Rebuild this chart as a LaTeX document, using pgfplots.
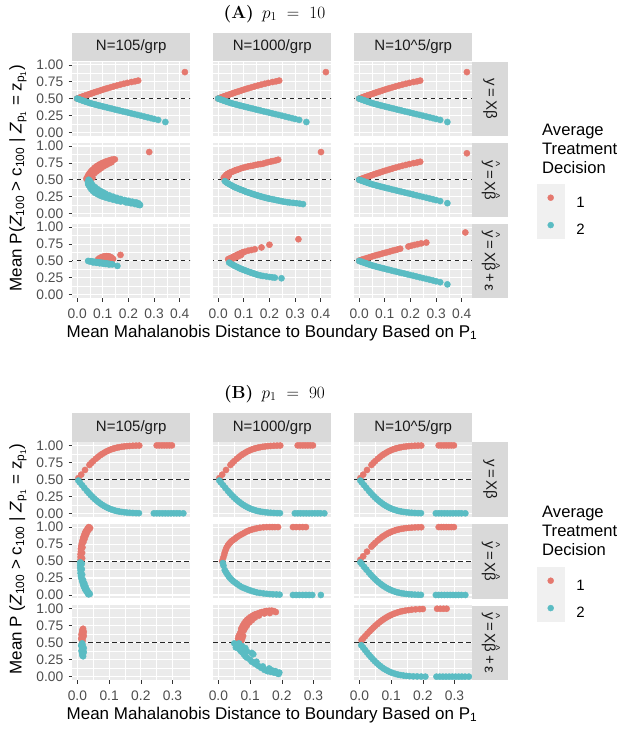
\documentclass[border=0pt]{standalone}
\usepackage{fontspec}
\newfontfamily\arial{Liberation Sans}
\usepackage{pgfplots}
\usepackage{pgfplotstable}
\pgfplotsset{compat=1.18}
\definecolor{panelbg}{HTML}{EBEBEB}
\definecolor{stripbg}{HTML}{D9D9D9}
\definecolor{stripfg}{HTML}{1A1A1A}
\definecolor{ticktxt}{HTML}{4D4D4D}
\definecolor{tickcol}{HTML}{333333}
\definecolor{keybg}{HTML}{F0F0F0}
\definecolor{cred}{HTML}{E5786E}
\definecolor{cblue}{HTML}{5ABCC3}

% ---------- Panel A data ----------
\pgfplotstableread{
x y
0.000 0.500
0.006 0.508
0.012 0.517
0.018 0.525
0.024 0.534
0.030 0.542
0.037 0.551
0.044 0.561
0.051 0.570
0.058 0.580
0.066 0.590
0.074 0.600
0.082 0.610
0.091 0.621
0.100 0.632
0.110 0.644
0.120 0.656
0.131 0.668
0.142 0.680
0.155 0.694
0.168 0.707
0.182 0.720
0.196 0.733
0.212 0.746
0.226 0.756
0.238 0.767
0.420 0.893
}\Aonr
\pgfplotstableread{
x y
0.000 0.500
0.006 0.492
0.012 0.484
0.018 0.476
0.024 0.468
0.030 0.460
0.036 0.452
0.043 0.443
0.050 0.434
0.058 0.425
0.066 0.417
0.074 0.409
0.082 0.401
0.090 0.393
0.099 0.385
0.108 0.376
0.117 0.368
0.126 0.359
0.136 0.350
0.146 0.340
0.156 0.331
0.166 0.322
0.177 0.312
0.188 0.302
0.199 0.292
0.211 0.281
0.223 0.270
0.236 0.258
0.249 0.246
0.262 0.234
0.275 0.222
0.288 0.210
0.300 0.198
0.316 0.184
0.344 0.153
}\Aonb
\pgfplotstableread{
x y
0.036 0.515
0.040 0.540
0.043 0.564
0.047 0.590
0.052 0.614
0.057 0.635
0.062 0.653
0.068 0.676
0.075 0.698
0.082 0.714
0.088 0.728
0.095 0.742
0.101 0.752
0.109 0.765
0.117 0.777
0.126 0.788
0.134 0.797
0.141 0.800
0.147 0.802
0.045 0.525
0.052 0.548
0.060 0.575
0.068 0.600
0.076 0.625
0.085 0.650
0.094 0.675
0.104 0.700
0.114 0.722
0.124 0.742
0.134 0.760
0.050 0.510
0.060 0.530
0.281 0.911
}\Atwrone
\pgfplotstableread{
x y
0.045 0.500
0.050 0.480
0.055 0.450
0.060 0.420
0.070 0.390
0.080 0.360
0.090 0.335
0.100 0.315
0.110 0.295
0.125 0.270
0.140 0.250
0.155 0.232
0.170 0.215
0.185 0.200
0.200 0.188
0.215 0.175
0.230 0.165
0.043 0.440
0.062 0.350
0.088 0.290
0.114 0.250
0.140 0.218
0.166 0.193
0.199 0.163
0.231 0.143
0.244 0.129
0.042 0.470
0.045 0.420
0.050 0.390
0.055 0.360
0.062 0.330
0.070 0.305
0.080 0.285
0.090 0.265
0.100 0.250
0.112 0.235
0.125 0.220
0.140 0.205
0.155 0.190
0.170 0.178
0.190 0.165
0.210 0.152
0.225 0.140
0.238 0.130
0.245 0.125
0.240 0.150
}\Atwbone
\pgfplotstableread{
x y
0.022 0.530
0.027 0.552
0.032 0.574
0.038 0.590
0.045 0.604
0.051 0.614
0.058 0.624
0.065 0.637
0.071 0.645
0.078 0.653
0.087 0.666
0.097 0.678
0.107 0.688
0.117 0.698
0.127 0.705
0.136 0.710
0.146 0.720
0.156 0.728
0.166 0.733
0.175 0.738
0.185 0.750
0.195 0.762
0.205 0.770
0.214 0.777
0.225 0.787
0.234 0.797
0.025 0.510
0.030 0.525
0.035 0.540
0.041 0.560
0.401 0.911
}\Atwrtwo
\pgfplotstableread{
x y
0.026 0.480
0.032 0.462
0.038 0.447
0.045 0.431
0.052 0.417
0.058 0.404
0.064 0.392
0.071 0.381
0.078 0.370
0.084 0.360
0.090 0.351
0.097 0.342
0.104 0.330
0.110 0.320
0.117 0.312
0.123 0.305
0.130 0.295
0.136 0.288
0.143 0.280
0.149 0.272
0.156 0.264
0.162 0.257
0.169 0.250
0.175 0.243
0.182 0.236
0.188 0.230
0.195 0.224
0.201 0.218
0.210 0.212
0.219 0.205
0.227 0.198
0.236 0.191
0.245 0.184
0.253 0.178
0.262 0.172
0.270 0.167
0.279 0.163
0.292 0.158
0.305 0.153
0.318 0.146
0.331 0.139
}\Atwbtwo
\pgfplotstableread{
x y
0.082 0.525
0.088 0.542
0.095 0.555
0.101 0.563
0.108 0.570
0.115 0.572
0.121 0.570
0.128 0.563
0.134 0.550
0.140 0.530
0.092 0.522
0.100 0.535
0.110 0.545
0.120 0.543
0.128 0.533
0.105 0.553
0.169 0.589
}\Athrone
\pgfplotstableread{
x y
0.043 0.500
0.048 0.494
0.054 0.496
0.060 0.490
0.066 0.488
0.072 0.484
0.078 0.482
0.084 0.478
0.090 0.475
0.096 0.472
0.102 0.470
0.108 0.466
0.114 0.463
0.120 0.460
0.126 0.456
0.132 0.452
0.138 0.449
0.062 0.478
0.075 0.472
0.088 0.465
0.100 0.460
0.112 0.455
0.124 0.447
0.157 0.426
}\Athbone
\pgfplotstableread{
x y
0.039 0.525
0.044 0.533
0.049 0.542
0.055 0.552
0.060 0.562
0.065 0.572
0.070 0.580
0.075 0.590
0.080 0.600
0.086 0.610
0.092 0.620
0.098 0.630
0.104 0.637
0.117 0.652
0.130 0.662
0.143 0.673
0.169 0.700
0.200 0.740
0.045 0.515
0.052 0.528
0.060 0.540
0.068 0.553
0.076 0.565
0.084 0.580
0.090 0.590
0.050 0.505
0.313 0.822
}\Athrtwo
\pgfplotstableread{
x y
0.043 0.475
0.050 0.458
0.058 0.441
0.064 0.428
0.071 0.416
0.078 0.403
0.084 0.391
0.090 0.381
0.097 0.371
0.103 0.362
0.110 0.352
0.117 0.342
0.124 0.333
0.130 0.325
0.136 0.317
0.143 0.309
0.149 0.300
0.156 0.292
0.165 0.285
0.175 0.277
0.188 0.270
0.201 0.262
0.211 0.257
0.221 0.252
0.247 0.243
}\Athbtwo
\pgfplotstableread{
x y
0.000 0.505
0.010 0.518
0.020 0.530
0.030 0.542
0.040 0.554
0.050 0.566
0.060 0.577
0.070 0.588
0.080 0.598
0.090 0.609
0.100 0.619
0.110 0.630
0.120 0.640
0.130 0.651
0.140 0.661
0.150 0.671
0.160 0.681
0.192 0.714
0.203 0.725
0.215 0.737
0.228 0.748
0.242 0.760
0.262 0.772
0.414 0.922
}\Athrthree

% ---------- Panel B data ----------
\pgfplotstableread{
x y
0.003 0.518
0.012 0.570
0.024 0.638
0.038 0.712
0.044 0.741
0.050 0.769
0.058 0.803
0.065 0.830
0.072 0.855
0.078 0.874
0.085 0.894
0.092 0.912
0.098 0.925
0.105 0.939
0.112 0.950
0.118 0.959
0.125 0.967
0.132 0.974
0.140 0.980
0.148 0.985
0.156 0.989
0.165 0.992
0.175 0.995
0.185 0.997
0.195 0.998
0.250 1.000
0.258 1.000
0.266 1.000
0.274 1.000
0.282 1.000
0.290 1.000
0.298 1.000
}\Bonr
\pgfplotstableread{
x y
0.003 0.482
0.008 0.453
0.015 0.413
0.022 0.373
0.030 0.330
0.036 0.298
0.042 0.268
0.048 0.240
0.054 0.213
0.060 0.189
0.066 0.166
0.072 0.145
0.078 0.126
0.085 0.106
0.092 0.088
0.098 0.075
0.105 0.061
0.112 0.050
0.118 0.041
0.125 0.033
0.132 0.026
0.140 0.020
0.148 0.015
0.156 0.011
0.165 0.008
0.175 0.005
0.185 0.003
0.194 0.002
0.241 0.000
0.250 0.000
0.259 0.000
0.268 0.000
0.277 0.000
0.286 0.000
0.295 0.000
0.304 0.000
0.313 0.000
0.322 0.000
0.334 0.000
}\Bonb
\pgfplotstableread{
x y
0.010 0.520
0.010 0.560
0.010 0.600
0.011 0.640
0.011 0.680
0.012 0.720
0.014 0.760
0.016 0.800
0.018 0.840
0.021 0.870
0.023 0.900
0.025 0.920
0.027 0.940
0.030 0.960
0.033 0.980
0.035 0.990
0.036 1.000
0.015 0.540
0.015 0.620
0.016 0.700
0.019 0.780
0.023 0.830
0.027 0.880
0.031 0.925
0.036 0.965
0.040 0.985
}\Btwrone
\pgfplotstableread{
x y
0.009 0.480
0.009 0.440
0.009 0.400
0.010 0.360
0.010 0.320
0.011 0.280
0.013 0.240
0.015 0.200
0.018 0.160
0.020 0.130
0.023 0.100
0.025 0.080
0.028 0.060
0.031 0.040
0.034 0.020
0.035 0.010
0.014 0.460
0.014 0.380
0.015 0.300
0.018 0.220
0.022 0.170
0.026 0.120
0.030 0.075
0.035 0.040
0.039 0.015
}\Btwbone
\pgfplotstableread{
x y
0.012 0.500
0.015 0.545
0.018 0.587
0.020 0.625
0.023 0.664
0.026 0.700
0.030 0.731
0.034 0.755
0.038 0.777
0.043 0.798
0.049 0.818
0.054 0.836
0.059 0.854
0.066 0.875
0.074 0.895
0.082 0.916
0.090 0.936
0.097 0.950
0.105 0.962
0.113 0.973
0.121 0.982
0.131 0.990
0.142 0.997
0.152 0.999
0.162 1.000
0.170 1.000
0.178 1.000
0.188 1.000
0.235 1.000
0.245 1.000
0.256 1.000
0.266 1.000
0.276 1.000
}\Btwrtwo
\pgfplotstableread{
x y
0.014 0.470
0.016 0.433
0.020 0.367
0.024 0.335
0.028 0.305
0.032 0.278
0.036 0.254
0.041 0.228
0.047 0.203
0.053 0.182
0.059 0.162
0.066 0.138
0.074 0.115
0.082 0.100
0.090 0.085
0.097 0.072
0.105 0.059
0.113 0.048
0.121 0.038
0.131 0.030
0.142 0.023
0.152 0.017
0.162 0.013
0.172 0.010
0.183 0.008
0.193 0.005
0.235 0.000
0.245 0.000
0.255 0.000
0.266 0.000
0.276 0.000
0.286 0.000
0.296 0.000
0.323 0.000
}\Btwbtwo
\pgfplotstableread{
x y
0.015 0.510
0.016 0.530
0.014 0.550
0.017 0.570
0.015 0.590
0.016 0.610
0.018 0.630
0.015 0.650
0.017 0.670
0.016 0.690
0.018 0.705
0.012 0.560
0.020 0.600
0.013 0.620
0.020 0.660
}\Bthrone
\pgfplotstableread{
x y
0.015 0.490
0.016 0.470
0.014 0.450
0.017 0.430
0.015 0.410
0.016 0.390
0.018 0.370
0.015 0.350
0.017 0.330
0.016 0.310
0.012 0.460
0.020 0.420
0.013 0.380
0.020 0.360
0.018 0.300
}\Bthbone
\pgfplotstableread{
x y
0.064 0.526
0.062 0.560
0.064 0.600
0.068 0.630
0.070 0.654
0.072 0.705
0.075 0.730
0.078 0.756
0.081 0.780
0.085 0.808
0.090 0.835
0.096 0.859
0.102 0.880
0.109 0.900
0.115 0.915
0.122 0.926
0.130 0.940
0.137 0.951
0.145 0.960
0.152 0.967
0.160 0.970
0.168 0.972
0.175 0.965
0.181 0.951
0.162 0.936
0.072 0.520
0.075 0.560
0.078 0.600
0.080 0.680
0.090 0.756
0.098 0.800
0.106 0.833
0.115 0.870
0.128 0.900
0.145 0.930
0.070 0.580
0.085 0.720
}\Bthrtwo
\pgfplotstableread{
x y
0.050 0.490
0.060 0.460
0.055 0.430
0.065 0.410
0.070 0.380
0.075 0.360
0.080 0.330
0.085 0.300
0.090 0.280
0.100 0.250
0.105 0.220
0.115 0.190
0.125 0.160
0.135 0.130
0.145 0.100
0.155 0.080
0.165 0.070
0.175 0.060
0.185 0.050
0.190 0.040
0.075 0.450
0.085 0.420
0.105 0.350
0.110 0.330
0.090 0.370
0.120 0.220
0.140 0.150
0.160 0.120
0.170 0.090
0.180 0.080
0.192 0.060
0.065 0.490
}\Bthbtwo
\pgfplotstableread{
x y
0.007 0.537
0.012 0.564
0.018 0.595
0.025 0.631
0.032 0.665
0.038 0.694
0.044 0.721
0.050 0.748
0.056 0.772
0.062 0.796
0.068 0.818
0.074 0.838
0.080 0.857
0.086 0.874
0.092 0.890
0.098 0.904
0.105 0.919
0.112 0.932
0.120 0.945
0.128 0.956
0.136 0.965
0.145 0.973
0.155 0.980
0.165 0.986
0.177 0.991
0.190 0.994
0.200 0.996
0.245 1.000
0.255 1.000
0.265 1.000
0.275 1.000
}\Bthrthree
\pgfplotstableread{
x y
0.006 0.463
0.012 0.427
0.018 0.391
0.024 0.356
0.030 0.322
0.036 0.290
0.042 0.259
0.048 0.230
0.054 0.203
0.060 0.178
0.066 0.155
0.072 0.134
0.078 0.115
0.085 0.096
0.092 0.079
0.099 0.064
0.106 0.052
0.114 0.040
0.122 0.030
0.130 0.023
0.139 0.016
0.148 0.011
0.158 0.007
0.170 0.004
0.182 0.003
0.195 0.001
0.208 0.000
0.243 0.000
0.253 0.000
0.263 0.000
0.273 0.000
0.283 0.000
0.293 0.000
0.303 0.000
0.313 0.000
0.323 0.000
0.333 0.000
0.345 0.000
}\Bthbthree

\pgfplotsset{
  facet/.style={
    scale only axis, anchor=north west, width=118pt,
    ymin=-0.05, ymax=1.05,
    ytick={0,0.25,0.5,0.75,1}, minor ytick={0.125,0.375,0.625,0.875},
    grid=both,
    major grid style={white, line width=1.1pt},
    minor grid style={white, line width=0.5pt},
    axis background/.style={fill=panelbg},
    axis line style={draw=none},
    xticklabels={,,,,,}, yticklabels={,,,,,},
    xtick style={draw=none}, ytick style={draw=none},
    major tick length=3.5pt, minor tick length=0pt,
    tick align=outside, xtick pos=bottom, ytick pos=left,
    tick label style={font=\arial\fontsize{13.8}{14}\selectfont, text=ticktxt, inner sep=0pt},
    yticklabel style={xshift=-5pt},
    xticklabel style={yshift=-7pt},
    /pgf/number format/assume math mode=true,
  },
  facetA/.style={facet, height=74.2pt, xmin=-0.02, xmax=0.44,
    xtick={0,0.1,0.2,0.3,0.4}, minor xtick={0.05,0.15,0.25,0.35}},
  facetB/.style={facet, height=74.7pt, xmin=-0.017, xmax=0.355,
    xtick={0,0.1,0.2,0.3}, minor xtick={0.05,0.15,0.25}},
  leftcol/.style={yticklabels={0.00,0.25,0.50,0.75,1.00}, ytick style={draw=tickcol, line width=0.6pt}},
  bottomA/.style={xticklabels={0.0,0.1,0.2,0.3,0.4}, xtick style={draw=tickcol, line width=0.6pt}},
  bottomB/.style={xticklabels={0.0,0.1,0.2,0.3}, xtick style={draw=tickcol, line width=0.6pt}},
  ptr/.style={only marks, mark=*, mark size=3.1pt, color=cred, mark options={draw=none, fill=cred}},
  ptb/.style={only marks, mark=*, mark size=3.1pt, color=cblue, mark options={draw=none, fill=cblue}},
  dashl/.style={black!85, line width=1pt, dash pattern=on 4.5pt off 3.5pt},
}

\newcommand\facet[5]{%
  \begin{axis}[#1, at={(#2pt,-#3pt)}]
    \addplot[ptr] table[x=x,y=y] {#4};
    \addplot[ptb] table[x=x,y=y] {#5};
    \addplot[dashl] coordinates {(-1,0.5) (1,0.5)};
  \end{axis}}

\tikzset{
  strip/.style={fill=stripbg, minimum width=118pt, minimum height=28.5pt, inner sep=0pt,
    font=\arial\fontsize{15}{15}\selectfont, text=stripfg},
  rstrip/.style={fill=stripbg, minimum width=36pt, inner sep=0pt, anchor=north west,
    font=\arial\fontsize{15}{15}\selectfont, text=stripfg},
}
\newcommand\hatit[1]{\ooalign{#1\cr\hidewidth\raisebox{0.5em}{\fontsize{11}{11}\selectfont\textasciicircum}\hidewidth\cr}}
\newcommand\lblone{y\,=\,Xβ}
\newcommand\lbltwo{\hatit{y}\,=\,X\hatit{β}}
\newcommand\lblthree{\hatit{y}\,=\,X\hatit{β}\,+\,ε}
\newcommand\ytitle[1]{Mean P#1(\textit{Z}\textsubscript{100} > c\textsubscript{100} | \textit{Z}\textsubscript{p\textsubscript{1}} = z\textsubscript{p\textsubscript{1}})}

\begin{document}
\begin{tikzpicture}
\useasboundingbox (0,0) rectangle (622pt,-734pt);

% ================= Panel A =================
\node[font=\fontsize{17.5}{17.5}\selectfont] at (274.5pt,-14pt) {\textbf{(A)}\, $p_1\ =\ 10$};

\facet{facetA,leftcol}{72}{61.5}{\Aonr}{\Aonb}
\facet{facetA}{213}{61.5}{\Aonr}{\Aonb}
\facet{facetA}{354}{61.5}{\Aonr}{\Aonb}
\facet{facetA,leftcol}{72}{142.67}{\Atwrone}{\Atwbone}
\facet{facetA}{213}{142.67}{\Atwrtwo}{\Atwbtwo}
\facet{facetA}{354}{142.67}{\Aonr}{\Aonb}
\facet{facetA,leftcol,bottomA}{72}{223.83}{\Athrone}{\Athbone}
\facet{facetA,bottomA}{213}{223.83}{\Athrtwo}{\Athbtwo}
\facet{facetA,bottomA}{354}{223.83}{\Athrthree}{\Aonb}

\node[strip, anchor=south west] at (72pt,-61.5pt) {N=105/grp};
\node[strip, anchor=south west] at (213pt,-61.5pt) {N=1000/grp};
\node[strip, anchor=south west] at (354pt,-61.5pt) {N=10\textasciicircum 5/grp};
\node[rstrip, minimum height=74.2pt] at (472pt,-61.5pt) {\rotatebox{-90}{\lblone}};
\node[rstrip, minimum height=74.2pt] at (472pt,-142.67pt) {\rotatebox{-90}{\lbltwo}};
\node[rstrip, minimum height=74.2pt] at (472pt,-223.83pt) {\rotatebox{-90}{\lblthree}};

\node[font=\arial\fontsize{17}{17}\selectfont] at (272pt,-333pt) {Mean Mahalanobis Distance to Boundary Based on P\textsubscript{1}};
\node[rotate=90, font=\arial\fontsize{17}{17}\selectfont] at (18pt,-178pt) {\ytitle{}};

\node[anchor=base west, font=\arial\fontsize{16.6}{17}\selectfont, inner sep=0pt] at (542pt,-135pt) {Average};
\node[anchor=base west, font=\arial\fontsize{16.6}{17}\selectfont, inner sep=0pt] at (542pt,-154.3pt) {Treatment};
\node[anchor=base west, font=\arial\fontsize{16.6}{17}\selectfont, inner sep=0pt] at (542pt,-173.6pt) {Decision};

\begin{axis}[at={(537pt,-184pt)}, anchor=north west, hide axis, scale only axis,
  width=10pt, height=10pt, xmin=0, xmax=1, ymin=0, ymax=1,
  legend style={at={(0,1)}, anchor=north west, draw=none, fill=none, inner sep=0pt,
    outer sep=0pt, row sep=0pt, column sep=12pt, legend cell align=left,
    font=\arial\fontsize{15}{15}\selectfont, nodes={inner sep=0pt, outer sep=0pt}}]
\addlegendimage{legend image code/.code={\fill[keybg] (0pt,-8.5pt) rectangle (27pt,18.5pt); \fill[cred] (13.5pt,5pt) circle (3pt);}}
\addlegendentry{1}
\addlegendimage{legend image code/.code={\fill[keybg] (0pt,-8.5pt) rectangle (27pt,18.5pt); \fill[cblue] (13.5pt,5pt) circle (3pt);}}
\addlegendentry{2}
\end{axis}

% ================= Panel B =================
\node[font=\fontsize{17.5}{17.5}\selectfont] at (274.5pt,-394pt) {\textbf{(B)}\, $p_1\ =\ 90$};

\facet{facetB,leftcol}{72}{442}{\Bonr}{\Bonb}
\facet{facetB}{213}{442}{\Bonr}{\Bonb}
\facet{facetB}{354}{442}{\Bonr}{\Bonb}
\facet{facetB,leftcol}{72}{523.67}{\Btwrone}{\Btwbone}
\facet{facetB}{213}{523.67}{\Btwrtwo}{\Btwbtwo}
\facet{facetB}{354}{523.67}{\Bonr}{\Bonb}
\facet{facetB,leftcol,bottomB}{72}{605.33}{\Bthrone}{\Bthbone}
\facet{facetB,bottomB}{213}{605.33}{\Bthrtwo}{\Bthbtwo}
\facet{facetB,bottomB}{354}{605.33}{\Bthrthree}{\Bthbthree}

\node[strip, anchor=south west] at (72pt,-442pt) {N=105/grp};
\node[strip, anchor=south west] at (213pt,-442pt) {N=1000/grp};
\node[strip, anchor=south west] at (354pt,-442pt) {N=10\textasciicircum 5/grp};
\node[rstrip, minimum height=74.7pt] at (472pt,-442pt) {\rotatebox{-90}{\lblone}};
\node[rstrip, minimum height=74.7pt] at (472pt,-523.67pt) {\rotatebox{-90}{\lbltwo}};
\node[rstrip, minimum height=74.7pt] at (472pt,-605.33pt) {\rotatebox{-90}{\lblthree}};

\node[font=\arial\fontsize{17}{17}\selectfont] at (272pt,-715pt) {Mean Mahalanobis Distance to Boundary Based on P\textsubscript{1}};
\node[rotate=90, font=\arial\fontsize{17}{17}\selectfont] at (18pt,-559pt) {\ytitle{\ }};

\node[anchor=base west, font=\arial\fontsize{16.6}{17}\selectfont, inner sep=0pt] at (542pt,-517pt) {Average};
\node[anchor=base west, font=\arial\fontsize{16.6}{17}\selectfont, inner sep=0pt] at (542pt,-536.3pt) {Treatment};
\node[anchor=base west, font=\arial\fontsize{16.6}{17}\selectfont, inner sep=0pt] at (542pt,-555.6pt) {Decision};

\begin{axis}[at={(537pt,-567pt)}, anchor=north west, hide axis, scale only axis,
  width=10pt, height=10pt, xmin=0, xmax=1, ymin=0, ymax=1,
  legend style={at={(0,1)}, anchor=north west, draw=none, fill=none, inner sep=0pt,
    outer sep=0pt, row sep=0pt, column sep=12pt, legend cell align=left,
    font=\arial\fontsize{15}{15}\selectfont, nodes={inner sep=0pt, outer sep=0pt}}]
\addlegendimage{legend image code/.code={\fill[keybg] (0pt,-8.5pt) rectangle (27pt,18.5pt); \fill[cred] (13.5pt,5pt) circle (3pt);}}
\addlegendentry{1}
\addlegendimage{legend image code/.code={\fill[keybg] (0pt,-8.5pt) rectangle (27pt,18.5pt); \fill[cblue] (13.5pt,5pt) circle (3pt);}}
\addlegendentry{2}
\end{axis}
\end{tikzpicture}
\end{document}
